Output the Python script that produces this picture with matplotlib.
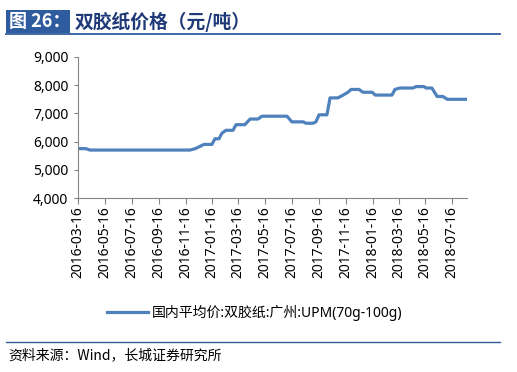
import matplotlib
matplotlib.use("Agg")
import matplotlib.pyplot as plt
import matplotlib.dates as mdates
from matplotlib.patches import Rectangle
from matplotlib.lines import Line2D
import pandas as pd

plt.rcParams['font.family'] = ['Noto Sans', 'Noto Sans CJK SC', 'DejaVu Sans']

# ---- data ----
dates = ["2016-03-16", "2016-04-03", "2016-04-12", "2016-11-26", "2016-12-08",
         "2016-12-28", "2017-01-15", "2017-01-22", "2017-01-31", "2017-02-07",
         "2017-02-16", "2017-03-04", "2017-03-11", "2017-03-31", "2017-04-12",
         "2017-04-30", "2017-05-09", "2017-07-05", "2017-07-16", "2017-08-11",
         "2017-08-17", "2017-09-02", "2017-09-09", "2017-09-16", "2017-10-04",
         "2017-10-11", "2017-10-29", "2017-11-10", "2017-11-21", "2017-11-28",
         "2017-12-16", "2017-12-25", "2018-01-15", "2018-01-22", "2018-03-01",
         "2018-03-08", "2018-03-19", "2018-04-18", "2018-04-25", "2018-05-13",
         "2018-05-18", "2018-05-31", "2018-06-12", "2018-06-25", "2018-07-05",
         "2018-08-19"]
prices = [5750, 5750, 5700, 5700, 5750,
          5900, 5900, 6100, 6100, 6300,
          6400, 6400, 6600, 6600, 6800,
          6800, 6900, 6900, 6700, 6700,
          6650, 6650, 6700, 6950, 6950,
          7550, 7550, 7650, 7750, 7850,
          7850, 7750, 7750, 7650, 7650,
          7850, 7900, 7900, 7950, 7950,
          7900, 7900, 7600, 7600, 7500,
          7500]
tick_dates = ["2016-03-16", "2016-05-16", "2016-07-16", "2016-09-16", "2016-11-16",
              "2017-01-16", "2017-03-16", "2017-05-16", "2017-07-16", "2017-09-16",
              "2017-11-16", "2018-01-16", "2018-03-16", "2018-05-16", "2018-07-16"]
y_ticks = [4000, 5000, 6000, 7000, 8000, 9000]
series_name = "国内平均价:双胶纸:广州:UPM(70g-100g)"
title_tag = "图 26："
title_text = "双胶纸价格（元/吨）"
source_text = "资料来源：Wind，长城证券研究所"

W, H = 517, 372
fig = plt.figure(figsize=(W / 100, H / 100), dpi=100)

def fx(px):
    return px / W

def fy(py):
    return 1 - py / H

ax = fig.add_axes([fx(78), fy(198), fx(467) - fx(78), fy(57) - fy(198)])

x = pd.to_datetime(dates)
line_color = "#4F81BD"
ax.plot(x, prices, color=line_color, lw=2.3, solid_joinstyle='round')

ax.set_xlim(pd.Timestamp("2016-03-16"), pd.Timestamp("2018-08-19"))
ax.set_ylim(4000, 9000)
ax.set_yticks(y_ticks)
ax.set_yticklabels([f"{v:,}" for v in y_ticks])
ax.set_xticks(pd.to_datetime(tick_dates))
ax.xaxis.set_major_formatter(mdates.DateFormatter("%Y-%m-%d"))
for lab in ax.get_xticklabels():
    lab.set_rotation(90)

spine_c = "#868686"
for s in ["top", "right"]:
    ax.spines[s].set_visible(False)
for s in ["left", "bottom"]:
    ax.spines[s].set_color(spine_c)
    ax.spines[s].set_linewidth(0.8)
ax.tick_params(axis='both', colors=spine_c, labelcolor="#000000", labelsize=10,
               direction='out', width=0.8)
ax.tick_params(axis='x', length=4, pad=2)
ax.tick_params(axis='y', length=3, pad=4)

# legend
leg = fig.legend([Line2D([0], [0], color=line_color, lw=2.3)], [series_name],
                 loc='center', bbox_to_anchor=(fx(255), fy(313)), frameon=False,
                 fontsize=10, handlelength=2.9, handletextpad=0.3)

# header
fig.patches.append(Rectangle((fx(6), fy(33)), fx(70) - fx(6), fy(10) - fy(33),
                             transform=fig.transFigure, facecolor="#2F5C9E",
                             edgecolor='none'))
fig.add_artist(Line2D([fx(6), fx(500)], [fy(33.5), fy(33.5)], transform=fig.transFigure,
                      color="#2F5C9E", lw=1.3))
fig.text(fx(9), fy(21.5), title_tag, color="white", fontsize=13, fontweight='bold',
         va='center', ha='left', family=['Noto Sans CJK SC', 'DejaVu Sans'])
fig.text(fx(75), fy(21.5), title_text, color="#1F3A78", fontsize=13.5, fontweight='bold',
         va='center', ha='left', family=['Noto Sans CJK SC', 'DejaVu Sans'])

# footer
fig.add_artist(Line2D([fx(6), fx(500)], [fy(341.5), fy(341.5)], transform=fig.transFigure,
                      color="#2E5E9A", lw=1.0))
fig.text(fx(8), fy(355), source_text, color="#000000", fontsize=10, style='italic',
         va='center', ha='left', family=['Noto Sans CJK SC', 'DejaVu Sans'])

fig.savefig("out.png", dpi=100)
